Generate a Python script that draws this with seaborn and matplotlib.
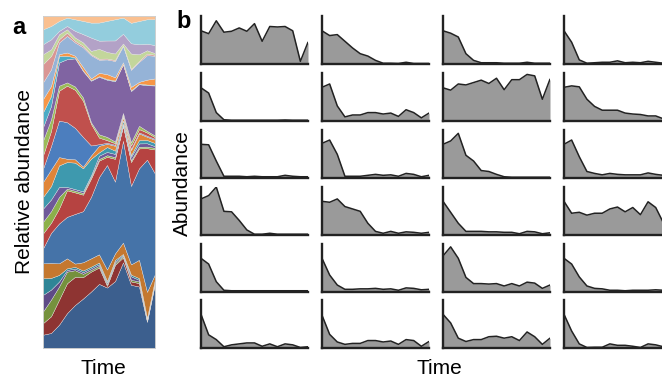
import numpy as np
import pandas as pd
import matplotlib
matplotlib.use("Agg")
import matplotlib.pyplot as plt
import seaborn as sns

# ---------------- Panel a data: layer thickness (bottom -> top) ----------------
time_points = list(range(15))
dark_blue    = [40, 45, 70, 105, 130, 150, 170, 195, 185, 205, 265, 185, 185, 80, 200]
dark_red     = [35, 50, 75, 90, 85, 65, 60, 50, 5, 50, 15, 10, 10, 3, 5]
olive_green  = [35, 50, 40, 35, 20, 10, 5, 5, 5, 5, 5, 5, 5, 3, 3]
dark_purple  = [50, 30, 15, 5, 5, 5, 5, 5, 5, 5, 3, 10, 5, 3, 3]
dark_teal    = [50, 35, 20, 5, 5, 5, 5, 5, 5, 5, 3, 5, 5, 3, 3]
brown_orange = [45, 45, 35, 30, 10, 25, 25, 25, 35, 20, 35, 30, 55, 80, 15]
main_blue    = [45, 90, 120, 125, 150, 155, 185, 235, 320, 220, 315, 230, 275, 405, 310]
red_2        = [45, 30, 45, 80, 65, 50, 55, 50, 25, 70, 45, 70, 60, 35, 75]
green_2      = [35, 35, 35, 5, 5, 5, 5, 5, 5, 5, 3, 5, 5, 5, 5]
purple_2     = [40, 35, 30, 5, 5, 5, 5, 10, 10, 10, 5, 10, 10, 10, 5]
teal_2       = [35, 40, 65, 75, 80, 70, 50, 10, 15, 10, 10, 5, 10, 10, 10]
orange_2     = [45, 50, 25, 10, 10, 5, 10, 20, 10, 15, 10, 15, 20, 10, 10]
blue_1       = [40, 70, 110, 110, 95, 90, 30, 5, 3, 3, 3, 3, 3, 3, 3]
red_1        = [40, 45, 90, 110, 115, 110, 65, 20, 8, 5, 5, 10, 10, 10, 5]
green_1      = [45, 35, 15, 10, 10, 10, 5, 10, 10, 5, 5, 10, 10, 5, 5]
purple_1     = [40, 40, 70, 70, 85, 80, 125, 175, 175, 185, 150, 150, 125, 140, 155]
aqua_1       = [45, 30, 20, 10, 3, 2, 2, 2, 2, 2, 2, 2, 2, 2, 2]
orange_1     = [40, 30, 5, 10, 5, 10, 5, 10, 15, 10, 5, 10, 5, 15, 20]
periwinkle   = [50, 50, 35, 50, 40, 60, 70, 40, 45, 50, 50, 50, 60, 75, 70]
rose         = [55, 40, 10, 10, 5, 5, 3, 3, 3, 3, 3, 3, 3, 5, 3]
light_green  = [30, 20, 15, 10, 10, 10, 10, 30, 20, 20, 5, 45, 20, 10, 5]
lavender     = [30, 30, 10, 10, 20, 25, 40, 25, 35, 40, 30, 30, 30, 20, 25]
light_aqua   = [45, 40, 30, 25, 35, 40, 45, 55, 60, 65, 50, 60, 70, 75, 80]
peach        = [40, 30, 15, 5, 10, 15, 20, 20, 15, 10, 5, 20, 15, 10, 10]

layers = [dark_blue, dark_red, olive_green, dark_purple, dark_teal, brown_orange,
          main_blue, red_2, green_2, purple_2, teal_2, orange_2, blue_1, red_1,
          green_1, purple_1, aqua_1, orange_1, periwinkle, rose, light_green,
          lavender, light_aqua, peach]
layer_colors = ["#3C5F8E", "#8E3432", "#75913D", "#5E4B86", "#2F8597", "#C4782F",
                "#4573A8", "#B64341", "#8CB04A", "#6E5899", "#3E99AE", "#E08538",
                "#4C7EBE", "#C0504D", "#9BBB59", "#8064A2", "#4BACC6", "#F79646",
                "#95B3D7", "#D99694", "#C3D69B", "#B3A2C7", "#93CDDD", "#FAC090"]

# ---------------- Panel b data: 6 rows x 4 columns of abundance profiles (axis fraction) ----------------
row1 = [
    [0.69, 0.63, 0.90, 0.66, 0.68, 0.75, 0.68, 0.84, 0.47, 0.78, 0.77, 0.78, 0.69, 0.05, 0.45],
    [0.69, 0.59, 0.61, 0.47, 0.33, 0.21, 0.16, 0.07, 0.01, 0.01, 0.005, 0.03, 0.005, 0.005, 0.005],
    [0.69, 0.64, 0.56, 0.21, 0.07, 0.02, 0.02, 0.02, 0.01, 0.01, 0.01, 0.03, 0.01, 0.01, 0.01],
    [0.69, 0.45, 0.08, 0.01, 0.02, 0.03, 0.03, 0.06, 0.02, 0.03, 0.02, 0.05, 0.03, 0.01, 0.01],
]
row2 = [
    [0.69, 0.58, 0.17, 0.02, 0.01, 0.01, 0.01, 0.01, 0.01, 0.01, 0.01, 0.015, 0.01, 0.01, 0.01],
    [0.70, 0.77, 0.31, 0.08, 0.12, 0.12, 0.17, 0.17, 0.14, 0.16, 0.09, 0.23, 0.17, 0.06, 0.16],
    [0.69, 0.64, 0.77, 0.75, 0.80, 0.85, 0.78, 0.89, 0.65, 0.86, 0.86, 0.97, 0.94, 0.45, 0.87],
    [0.70, 0.73, 0.71, 0.45, 0.30, 0.22, 0.22, 0.22, 0.16, 0.14, 0.13, 0.10, 0.10, 0.04, 0.03],
]
row3 = [
    [0.70, 0.69, 0.35, 0.03, 0.03, 0.03, 0.02, 0.03, 0.02, 0.02, 0.02, 0.05, 0.03, 0.02, 0.02],
    [0.72, 0.79, 0.49, 0.03, 0.03, 0.03, 0.05, 0.07, 0.05, 0.06, 0.03, 0.09, 0.07, 0.02, 0.05],
    [0.70, 0.77, 0.93, 0.47, 0.35, 0.15, 0.13, 0.07, 0.02, 0.01, 0.01, 0.01, 0.01, 0.01, 0.01],
    [0.70, 0.79, 0.44, 0.13, 0.09, 0.06, 0.09, 0.07, 0.06, 0.06, 0.06, 0.10, 0.07, 0.05, 0.04],
]
row4 = [
    [0.75, 0.82, 1.00, 0.49, 0.48, 0.30, 0.10, 0.01, 0.01, 0.03, 0.01, 0.01, 0.01, 0.01, 0.01],
    [0.70, 0.68, 0.75, 0.59, 0.54, 0.49, 0.24, 0.07, 0.03, 0.07, 0.03, 0.06, 0.05, 0.03, 0.05],
    [0.70, 0.47, 0.24, 0.07, 0.07, 0.07, 0.06, 0.06, 0.05, 0.05, 0.02, 0.07, 0.06, 0.02, 0.04],
    [0.70, 0.45, 0.47, 0.41, 0.45, 0.45, 0.54, 0.58, 0.48, 0.57, 0.42, 0.69, 0.57, 0.25, 0.20],
]
row5 = [
    [0.70, 0.58, 0.21, 0.03, 0.02, 0.02, 0.02, 0.02, 0.02, 0.02, 0.02, 0.02, 0.02, 0.02, 0.02],
    [0.70, 0.35, 0.14, 0.05, 0.05, 0.06, 0.06, 0.07, 0.05, 0.06, 0.03, 0.08, 0.07, 0.04, 0.05],
    [0.75, 0.94, 0.70, 0.30, 0.17, 0.17, 0.16, 0.17, 0.12, 0.17, 0.12, 0.20, 0.18, 0.07, 0.14],
    [0.70, 0.58, 0.31, 0.12, 0.07, 0.06, 0.03, 0.03, 0.02, 0.03, 0.03, 0.03, 0.04, 0.03, 0.03],
]
row6 = [
    [0.70, 0.27, 0.17, 0.02, 0.06, 0.08, 0.10, 0.10, 0.03, 0.08, 0.02, 0.08, 0.06, 0.005, 0.02],
    [0.68, 0.28, 0.12, 0.07, 0.09, 0.09, 0.15, 0.15, 0.12, 0.14, 0.07, 0.17, 0.15, 0.03, 0.13],
    [0.70, 0.52, 0.20, 0.13, 0.17, 0.17, 0.23, 0.24, 0.20, 0.23, 0.15, 0.33, 0.23, 0.07, 0.20],
    [0.70, 0.35, 0.08, 0.005, 0.01, 0.01, 0.08, 0.05, 0.05, 0.03, 0.005, 0.08, 0.06, 0.02, 0.02],
]
rows_b = [row1, row2, row3, row4, row5, row6]

# ---------------- Styling ----------------
sns.set_theme(style="white")
plt.rcParams["font.family"] = ["Liberation Sans", "DejaVu Sans"]
plt.rcParams["text.color"] = "black"

W, H = 662, 378
fig = plt.figure(figsize=(W / 100, H / 100), dpi=100)

def px_axes(left, top, width, height):
    return fig.add_axes([left / W, 1 - (top + height) / H, width / W, height / H])

# ---------------- Panel a ----------------
arr = np.array(layers, dtype=float)
frac = arr / arr.sum(axis=0, keepdims=True)
axa = px_axes(43, 16, 112, 332)
axa.stackplot(time_points, frac, colors=layer_colors, linewidth=0.25,
              edgecolor="#e6e6e6", antialiased=True)
axa.set_xlim(0, 14)
axa.set_ylim(0, 1)
axa.set_xticks([])
axa.set_yticks([])
for s in axa.spines.values():
    s.set_visible(True)
    s.set_color("#cccccc")
    s.set_linewidth(0.6)

fig.text(12 / W, 1 - 27 / H, "a", fontsize=17, fontweight="bold", va="center", ha="left")
fig.text(25 / W, 1 - 182 / H, "Relative abundance", fontsize=15, rotation=90,
         ha="center", va="center")
fig.text(103 / W, 1 - 369 / H, "Time", fontsize=15, ha="center", va="center")

# ---------------- Panel b ----------------
col_left = [201, 322, 443, 564]
row_top = [16, 73, 130, 187, 244, 300]
cell_w, cell_h = 107, 47.7
for r, row in enumerate(rows_b):
    for c, series in enumerate(row):
        ax = px_axes(col_left[c], row_top[r], cell_w, cell_h)
        df = pd.DataFrame({"t": time_points, "v": series})
        ax.fill_between(df["t"], 0, df["v"], color="#9a9a9a", linewidth=0)
        sns.lineplot(data=df, x="t", y="v", ax=ax, color="#222222", linewidth=1.1)
        ax.set_xlim(0, 14)
        ax.set_ylim(0, 1.0)
        ax.set_xticks([])
        ax.set_yticks([])
        ax.set_xlabel("")
        ax.set_ylabel("")
        for side in ["top", "right"]:
            ax.spines[side].set_visible(False)
        for side in ["left", "bottom"]:
            ax.spines[side].set_visible(True)
            ax.spines[side].set_color("#222222")
            ax.spines[side].set_linewidth(1.7)
        ax.patch.set_alpha(0)

fig.text(176 / W, 1 - 22 / H, "b", fontsize=17, fontweight="bold", va="center", ha="left")
fig.text(182 / W, 1 - 183 / H, "Abundance", fontsize=15, rotation=90,
         ha="center", va="center")
fig.text(439 / W, 1 - 369 / H, "Time", fontsize=15, ha="center", va="center")

fig.savefig("out.png", dpi=100)
